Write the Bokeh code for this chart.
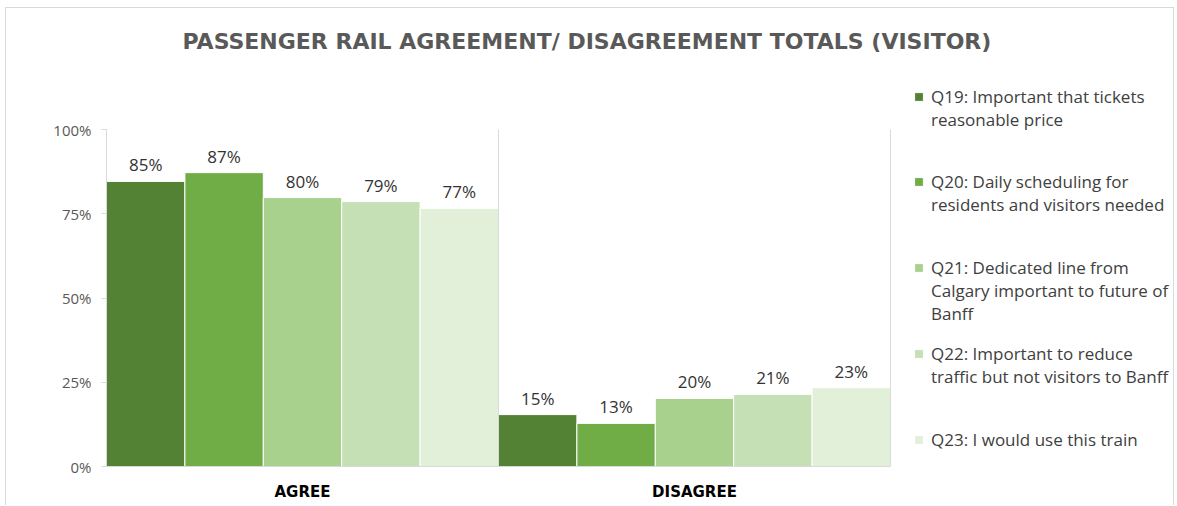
from bokeh.plotting import figure
from bokeh.models import (ColumnDataSource, Range1d, LabelSet, Legend,
                          LegendItem, NumeralTickFormatter, FixedTicker)
from bokeh.transform import dodge
from bokeh.core.properties import value
from bokeh.embed import file_html
from bokeh.resources import INLINE

# ---- data ----
categories = ["AGREE", "DISAGREE"]
series_labels = [
    "Q19: Important that tickets\nreasonable price",
    "Q20: Daily scheduling for\nresidents and visitors needed",
    "Q21: Dedicated line from\nCalgary important to future of\nBanff",
    "Q22: Important to reduce\ntraffic but not visitors to Banff",
    "Q23: I would use this train",
]
q19 = [0.846, 0.154]
q20 = [0.872, 0.128]
q21 = [0.798, 0.202]
q22 = [0.786, 0.214]
q23 = [0.766, 0.234]
series_values = [q19, q20, q21, q22, q23]
y_ticks = [0, 0.25, 0.5, 0.75, 1.0]

colors = ["#548235", "#70AD47", "#A9D18E", "#C5E0B4", "#E2F0D9"]
offsets = [-0.4, -0.2, 0.0, 0.2, 0.4]
FONT = "Open Sans"

# layout (pixels): the frame also holds the legend area
FRAME_W, CAT_PX = 1064, 392
FRAME_H, UNIT_PX = 395, 337
x_centers = [i + 0.5 for i in range(len(categories))]

p = figure(
    x_range=Range1d(0, FRAME_W / CAT_PX),
    y_range=Range1d(0, FRAME_H / UNIT_PX),
    width=1169, height=498,
    min_border_left=100, min_border_right=5,
    min_border_top=63, min_border_bottom=40,
    output_backend="svg", toolbar_location=None,
    title="PASSENGER RAIL AGREEMENT/ DISAGREEMENT TOTALS (VISITOR)",
)
p.margin = (7, 0, 0, 5)
p.styles = {"border-top": "1px solid #d9d9d9", "border-left": "1px solid #d9d9d9",
            "border-right": "1px solid #d9d9d9"}
p.outline_line_color = None
p.background_fill_color = "white"
p.border_fill_color = "white"

p.title.text_font = "DejaVu Sans"
p.title.text_font_size = "22px"
p.title.text_font_style = "bold"
p.title.text_color = "#595959"
p.title.align = "left"
p.title.standoff = 36
p.title.offset = 76

renderers = []
for vals, col, off in zip(series_values, colors, offsets):
    src = ColumnDataSource(dict(xc=x_centers, val=vals,
                                lab=["{:.0f}%".format(v * 100) for v in vals]))
    r = p.vbar(x=dodge("xc", off), top="val", width=0.2,
               source=src, fill_color=col, line_color="white", line_width=1)
    renderers.append(r)
    p.add_layout(LabelSet(x=dodge("xc", off), y="val", text="lab",
                          source=src, text_align="center", text_baseline="alphabetic",
                          y_offset=10, text_font=value(FONT), text_font_size="17px",
                          text_color="#333333"))

# vertical gridlines at the category boundaries (0 .. top tick)
bounds_src = ColumnDataSource(dict(x=[i + 1 for i in range(len(categories))],
                                   y0=[y_ticks[0]] * len(categories),
                                   y1=[y_ticks[-1]] * len(categories)))
p.segment(x0="x", x1="x", y0="y0", y1="y1", source=bounds_src,
          line_color="#d9d9d9", line_width=1)

p.xgrid.visible = False
p.ygrid.visible = False

p.yaxis.ticker = FixedTicker(ticks=y_ticks)
p.yaxis.bounds = (y_ticks[0], y_ticks[-1])
p.yaxis.formatter = NumeralTickFormatter(format="0%")
p.yaxis.axis_line_color = "#d9d9d9"
p.yaxis.major_tick_line_color = "#d9d9d9"
p.yaxis.major_tick_out = 5
p.yaxis.major_tick_in = 0
p.yaxis.minor_tick_line_color = None
p.yaxis.major_label_text_font = FONT
p.yaxis.major_label_text_font_size = "15px"
p.yaxis.major_label_text_color = "#595959"
p.yaxis.major_label_standoff = 10

p.xaxis.ticker = FixedTicker(ticks=x_centers)
p.xaxis.major_label_overrides = {x: c for x, c in zip(x_centers, categories)}
p.xaxis.bounds = (0, len(categories))
p.xaxis.axis_line_color = "#d9d9d9"
p.xaxis.major_tick_line_color = None
p.xaxis.minor_tick_line_color = None
p.xaxis.major_label_text_font = "DejaVu Sans"
p.xaxis.major_label_text_font_size = "15px"
p.xaxis.major_label_text_font_style = "bold"
p.xaxis.major_label_text_color = "#000000"
p.xaxis.major_label_standoff = 10

# legend: a swatch + first line per question, continuation lines below it
blank = p.scatter(x=[], y=[], size=0, fill_alpha=0, line_alpha=0)
LINE = 23
first_line_centers = [96.5, 181.5, 267.5, 353.5, 439]  # page y
frame_bottom_page = 466
leg_common = dict(padding=0, margin=0, border_line_color=None, background_fill_alpha=0,
                  glyph_width=11, glyph_height=11, label_standoff=7,
                  label_text_font=FONT, label_text_font_size="17px",
                  label_text_color="#404040", label_text_line_height=LINE / 17)
for lab, r, c in zip(series_labels, renderers, first_line_centers):
    lines = lab.split("\n")
    p.add_layout(Legend(items=[LegendItem(label=lines[0], renderers=[r])],
                        location=(807, frame_bottom_page - c - 12),
                        label_height=24, **leg_common))
    if len(lines) > 1:
        k = len(lines) - 1
        p.add_layout(Legend(items=[LegendItem(label="\n".join(lines[1:]), renderers=[blank])],
                            location=(807, frame_bottom_page - (c + LINE / 2) - LINE * k),
                            label_height=LINE * k, **leg_common))

open("out.html", "w").write(file_html(p, INLINE))
